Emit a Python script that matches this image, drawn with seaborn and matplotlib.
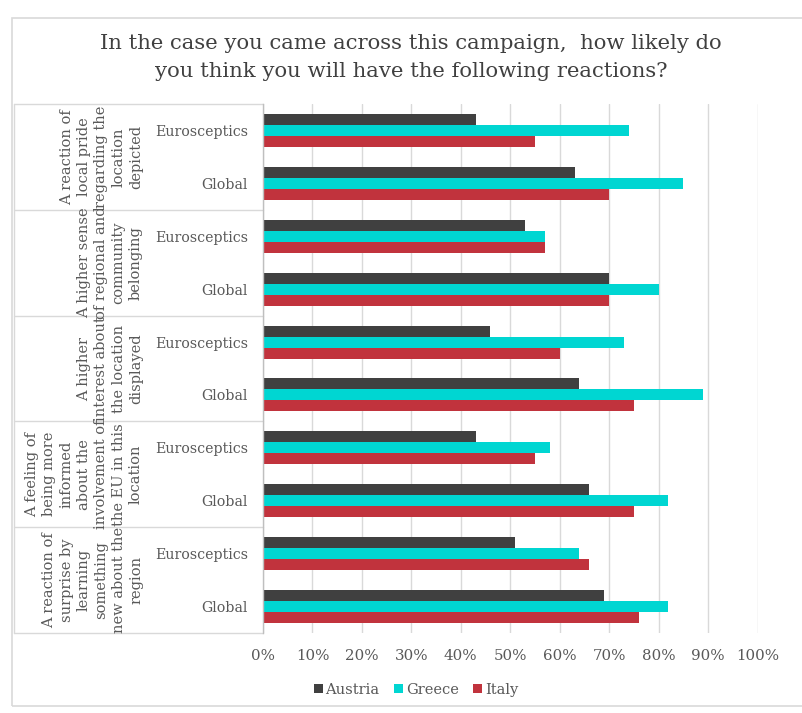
import matplotlib
matplotlib.use("Agg")
import matplotlib.pyplot as plt
import seaborn as sns
import pandas as pd
from matplotlib.ticker import PercentFormatter
from matplotlib.transforms import blended_transform_factory
from matplotlib.patches import Rectangle

# Survey reactions (grouped rows), each split into two respondent segments
groups = [
    "A reaction of\nlocal pride\nregarding the\nlocation\ndepicted",
    "A higher sense\nof regional and\ncommunity\nbelonging",
    "A higher\ninterest about\nthe location\ndisplayed",
    "A feeling of\nbeing more\ninformed\nabout the\ninvolvement of\nthe EU in this\nlocation",
    "A reaction of\nsurprise by\nlearning\nsomething\nnew about the\nregion",
]
segments = ["Eurosceptics", "Global"]
countries = ["Austria", "Greece", "Italy"]

# Share of respondents (%) per row: group1 Eurosceptics, group1 Global, group2 ...
austria = [43, 63, 53, 70, 46, 64, 43, 66, 51, 69]
greece = [74, 85, 57, 80, 73, 89, 58, 82, 64, 82]
italy = [55, 70, 57, 70, 60, 75, 55, 75, 66, 76]

x_ticks = [0, 10, 20, 30, 40, 50, 60, 70, 80, 90, 100]

colors = {"Austria": "#404040", "Greece": "#00D6D2", "Italy": "#C1333D"}
text_gray = "#595959"

row_ids = [f"{g}-{s}" for g in range(len(groups)) for s in segments]
records = []
for country, vals in zip(countries, [austria, greece, italy]):
    for rid, v in zip(row_ids, vals):
        records.append({"row": rid, "country": country, "share": v / 100})
df = pd.DataFrame(records)

sns.set_style("white")
plt.rcParams["font.family"] = ["DejaVu Serif"]

fig = plt.figure(figsize=(8.02, 7.13), dpi=100)
W, H = 802, 713
ax = fig.add_axes([263 / W, (H - 633) / H, (757.5 - 263) / W, (633 - 104) / H])

sns.barplot(
    data=df, x="share", y="row", hue="country", order=row_ids,
    hue_order=countries, palette=colors, orient="h", width=0.625,
    saturation=1, errorbar=None, linewidth=0, ax=ax,
)

ax.set_xlim(0, 1.0)
ax.set_ylim(len(row_ids) - 0.5, -0.5)
ax.set_xticks([t / 100 for t in x_ticks])
ax.xaxis.set_major_formatter(PercentFormatter(1.0, decimals=0))
ax.set_yticks(range(len(row_ids)))
ax.set_yticklabels(segments * len(groups))
ax.set_xlabel("")
ax.set_ylabel("")
ax.tick_params(axis="x", length=0, pad=11.5, labelsize=10.8, labelcolor=text_gray)
ax.tick_params(axis="y", length=0, pad=10.8, labelsize=10.2, labelcolor=text_gray)
ax.grid(axis="x", color="#D9D9D9", linewidth=1)
ax.set_axisbelow(True)
for side in ["top", "right", "bottom"]:
    ax.spines[side].set_visible(False)
ax.spines["left"].set_color("#BFBFBF")
ax.spines["left"].set_linewidth(1)

# Left-hand table of reaction groups
tr = blended_transform_factory(fig.transFigure, ax.transData)
left_x = 14 / W
axis_x = 263 / W
for b in range(len(groups) + 1):
    y = b * 2 - 0.5
    ax.plot([left_x, axis_x], [y, y], transform=tr, color="#D9D9D9",
            linewidth=1, clip_on=False)
ax.plot([left_x, left_x], [-0.5, len(row_ids) - 0.5], transform=tr,
        color="#D9D9D9", linewidth=1, clip_on=False)
for i, g in enumerate(groups):
    ax.text(143 / W, i * 2 + 0.5, g, transform=tr, rotation=90, ha="right",
            va="center", multialignment="center", fontsize=10.5,
            color=text_gray, linespacing=1.3)

# Legend below the axis
handles, labels = ax.get_legend_handles_labels()
ax.legend(handles, labels, loc="center", bbox_to_anchor=(416 / W, (H - 690) / H),
          bbox_transform=fig.transFigure, ncol=3, frameon=False,
          handlelength=0.6, handleheight=0.6, handletextpad=0.2,
          columnspacing=1.0, fontsize=10.5, labelcolor=text_gray)

fig.text(411 / W, (H - 57.5) / H,
         "In the case you came across this campaign,  how likely do\n"
         "you think you will have the following reactions?",
         ha="center", va="center", fontsize=15.2, color="#404040",
         linespacing=1.62)

# Outer frame of the chart
fig.patches.append(Rectangle((12 / W, (H - 706) / H), (W + 10 - 12) / W,
                             (706 - 18) / H, transform=fig.transFigure,
                             fill=False, edgecolor="#D9D9D9", linewidth=1.2))

fig.savefig("out.png", dpi=100, facecolor="white")
